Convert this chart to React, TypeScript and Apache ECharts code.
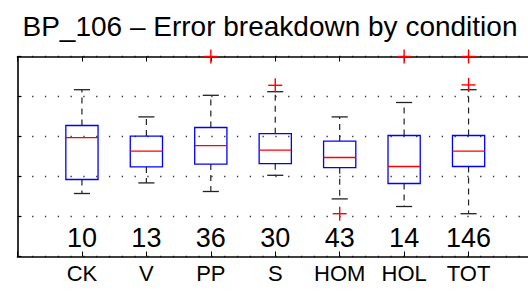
import React, { useEffect, useRef } from 'react';
import * as echarts from 'echarts';

const categories = ['CK', 'V', 'PP', 'S', 'HOM', 'HOL', 'TOT'];
const counts = [10, 13, 36, 30, 43, 14, 146];
const whiskerLow = [1.575, 1.84, 1.625, 2.03, 1.44, 1.25, 1.07];
const q1 = [1.925, 2.24, 2.31, 2.32, 2.22, 1.825, 2.25];
const median = [2.97, 2.635, 2.77, 2.66, 2.475, 2.25, 2.635];
const q3 = [3.275, 3.01, 3.225, 3.07, 2.885, 3.025, 3.025];
const whiskerHigh = [4.17, 3.49, 4.03, 4.12, 3.49, 3.85, 4.17];
const outliers: [number, number][] = [
  [3, 5.0],
  [4, 4.28],
  [5, 1.07],
  [6, 5.0],
  [7, 5.0],
  [7, 4.29],
];
const titleText = 'BP_106 \u2013 Error breakdown by condition';

const FONT = '"Liberation Sans", Arial, Helvetica, sans-serif';

export default function App() {
  const ref = useRef<HTMLDivElement>(null);
  useEffect(() => {
    const chart = echarts.init(ref.current!, null, { renderer: 'svg' });
    const boxData = categories.map((_, i) => [i + 1, whiskerLow[i], q1[i], median[i], q3[i], whiskerHigh[i]]);
    const countData = counts.map((c, i) => [i + 1, 0.46, c]);
    const baseX = {
      type: 'value',
      min: 0,
      max: 8,
      interval: 1,
      axisLine: { show: true, onZero: false, lineStyle: { color: '#000', width: 1.6 } },
      axisTick: { show: true, inside: true, length: 5, lineStyle: { color: '#000', width: 1 } },
      splitLine: { show: false },
    };
    chart.setOption({
      animation: false,
      graphic: [
        {
          type: 'text',
          x: 270,
          y: 26,
          style: {
            text: titleText,
            fontSize: 28,
            fontFamily: FONT,
            fill: '#000',
            align: 'center',
            verticalAlign: 'middle',
          },
        },
      ],
      grid: { left: 17.5, top: 56.5, width: 515.5, height: 200 },
      xAxis: [
        {
          ...baseX,
          position: 'bottom',
          axisLabel: {
            show: true,
            fontSize: 22,
            fontFamily: FONT,
            color: '#000',
            margin: 6,
            formatter: (v: number) => categories[v - 1] ?? '',
          },
        },
        { ...baseX, position: 'top', axisLabel: { show: false } },
      ],
      yAxis: [
        {
          type: 'value',
          min: 0,
          max: 5,
          interval: 1,
          position: 'left',
          axisLine: { show: true, onZero: false, lineStyle: { color: '#000', width: 1.6 } },
          axisTick: { show: true, inside: true, length: 4, lineStyle: { color: '#000', width: 1 } },
          axisLabel: { show: false },
          splitLine: {
            show: true,
            lineStyle: { color: '#333', width: 1.3, type: [1.3, 11.5], dashOffset: 11.4 },
          },
        },
      ],
      series: [
        {
          type: 'custom',
          xAxisIndex: 0,
          yAxisIndex: 0,
          data: boxData,
          renderItem: (params: any, api: any) => {
            const x = api.value(0);
            const lo = api.coord([x, api.value(1)]);
            const b1 = api.coord([x, api.value(2)]);
            const md = api.coord([x, api.value(3)]);
            const b3 = api.coord([x, api.value(4)]);
            const hi = api.coord([x, api.value(5)]);
            const half = api.size([0.5, 0])[0] / 2;
            const cap = half / 2;
            const cx = lo[0];
            const dashStyle = { stroke: '#222', lineWidth: 1.2, lineDash: [6, 5] };
            const capStyle = { stroke: '#222', lineWidth: 1.3 };
            return {
              type: 'group',
              children: [
                { type: 'line', shape: { x1: cx, y1: b3[1], x2: cx, y2: hi[1] }, style: dashStyle },
                { type: 'line', shape: { x1: cx, y1: b1[1], x2: cx, y2: lo[1] }, style: dashStyle },
                { type: 'line', shape: { x1: cx - cap, y1: hi[1], x2: cx + cap, y2: hi[1] }, style: capStyle },
                { type: 'line', shape: { x1: cx - cap, y1: lo[1], x2: cx + cap, y2: lo[1] }, style: capStyle },
                {
                  type: 'rect',
                  shape: { x: cx - half, y: b3[1], width: half * 2, height: b1[1] - b3[1] },
                  style: { fill: 'none', stroke: '#0000ff', lineWidth: 1.3 },
                },
                {
                  type: 'line',
                  shape: { x1: cx - half, y1: md[1], x2: cx + half, y2: md[1] },
                  style: { stroke: '#ff0000', lineWidth: 1.3 },
                },
              ],
            };
          },
        },
        {
          type: 'custom',
          xAxisIndex: 0,
          yAxisIndex: 0,
          data: outliers,
          clip: false,
          z: 5,
          renderItem: (params: any, api: any) => {
            const p = api.coord([api.value(0), api.value(1)]);
            const h = 7;
            const st = { stroke: '#ff0000', lineWidth: 1.4 };
            return {
              type: 'group',
              children: [
                { type: 'line', shape: { x1: p[0] - h, y1: p[1], x2: p[0] + h, y2: p[1] }, style: st },
                { type: 'line', shape: { x1: p[0], y1: p[1] - h, x2: p[0], y2: p[1] + h }, style: st },
              ],
            };
          },
        },
        {
          type: 'custom',
          xAxisIndex: 0,
          yAxisIndex: 0,
          data: countData,
          renderItem: (params: any, api: any) => {
            const p = api.coord([api.value(0), api.value(1)]);
            return {
              type: 'text',
              x: p[0],
              y: p[1],
              style: {
                text: String(api.value(2)),
                fontSize: 27,
                fontFamily: FONT,
                fill: '#000',
                align: 'center',
                verticalAlign: 'middle',
              },
            };
          },
        },
      ],
    });
    return () => chart.dispose();
  }, []);
  return (
    <div
      style={{
        position: 'fixed',
        left: 0,
        top: 0,
        width: 528,
        height: 295,
        overflow: 'hidden',
        background: '#fff',
      }}
    >
      <div ref={ref} style={{ width: 600, height: 295 }} />
    </div>
  );
}
